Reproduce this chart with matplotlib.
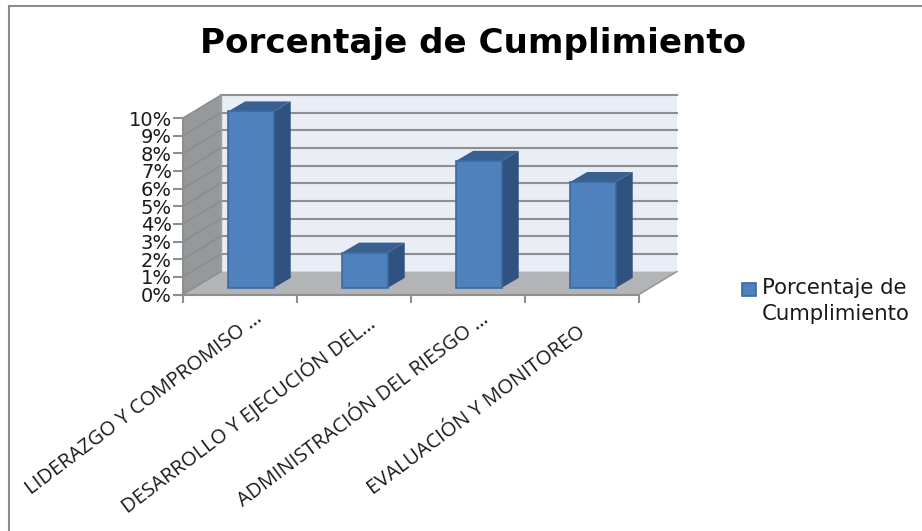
from matplotlib import pyplot as plt
from matplotlib.patches import Polygon, Rectangle
from matplotlib.ticker import PercentFormatter
from matplotlib.transforms import ScaledTranslation

categories = ["LIDERAZGO Y COMPROMISO …", "DESARROLLO Y EJECUCIÓN DEL…",
              "ADMINISTRACIÓN DEL RIESGO …", "EVALUACIÓN Y MONITOREO"]
values = [10.0, 2.0, 7.2, 6.0]
y_ticks = list(range(0, 11))
series_name = "Porcentaje de\nCumplimiento"
title = "Porcentaje de Cumplimiento"

W, H = 922, 531
# depth of the floor/walls and of the bars, in data units
DX, DY = 0.333, 1.30
BAR_W, BAR_DX, BAR_DY = 0.40, 0.15, 0.57
BAR_OFF_X, BAR_OFF_Y = 0.095, 0.37
# nudge of each category label, in pixels
LABEL_SHIFT = [(14, 14), (11, 11), (13, 13), (-5, 0)]


def poly(ax, pts, fc, ec='none', lw=0.0, z=1):
    ax.add_patch(Polygon(pts, closed=True, facecolor=fc, edgecolor=ec, linewidth=lw, zorder=z, clip_on=False))


def main():
    plt.rcParams['font.family'] = ['DejaVu Sans']
    fig = plt.figure(figsize=(W / 100, H / 100), dpi=100)

    # frame around the pasted picture
    fig.add_artist(plt.Line2D([9 / W, 9 / W], [0, 1 - 6 / H], color='#8c8c8c', lw=1.5, zorder=-1))
    fig.add_artist(plt.Line2D([9 / W, 1], [1 - 6 / H, 1 - 6 / H], color='#8c8c8c', lw=1.5, zorder=-1))

    ax = fig.add_axes([183 / W, 1 - 294.5 / H, 456 / W, 176.5 / H])
    ax.set_xlim(-0.5, 3.5)
    ax.set_ylim(0, 10)
    ax.patch.set_visible(False)
    for s in ax.spines.values():
        s.set_visible(False)

    x0, x1 = -0.5, 3.5
    top = y_ticks[-1]
    # back wall, side wall, floor
    poly(ax, [(x0 + DX, DY), (x1 + DX, DY), (x1 + DX, top + DY), (x0 + DX, top + DY)], '#e9edf5')
    poly(ax, [(x0, 0), (x0 + DX, DY), (x0 + DX, top + DY), (x0, top)], '#96999c')
    poly(ax, [(x0, 0), (x1, 0), (x1 + DX, DY), (x0 + DX, DY)], '#b2b4b7')

    for t in y_ticks:
        ax.plot([x0, x0 + DX], [t, t + DY], color='#8a8a8a', lw=1.0, zorder=2, clip_on=False)
        if t > 0:
            ax.plot([x0 + DX, x1 + DX], [t + DY, t + DY], color='#8f8f8f', lw=1.5, zorder=2, clip_on=False)
    ax.plot([x0, x1], [0, 0], color='#8f8f8f', lw=1.5, zorder=2, clip_on=False)
    ax.plot([x1, x1 + DX], [0, DY], color='#8f8f8f', lw=1.0, zorder=2, clip_on=False)
    ax.plot([x0, x0], [0, top], color='#8f8f8f', lw=1.5, zorder=2, clip_on=False)
    ax.plot([x0 + DX, x0 + DX], [DY, top + DY], color='#a0a0a0', lw=1.0, zorder=2, clip_on=False)

    # bars, front face plus top and side
    for i, v in enumerate(values):
        l = i + BAR_OFF_X - BAR_W / 2
        r = l + BAR_W
        b = BAR_OFF_Y
        t = b + v
        poly(ax, [(r, b), (r + BAR_DX, b + BAR_DY), (r + BAR_DX, t + BAR_DY), (r, t)], '#2f5280', z=3)
        poly(ax, [(l, t), (r, t), (r + BAR_DX, t + BAR_DY), (l + BAR_DX, t + BAR_DY)], '#386192', z=3)
        ax.bar(i + BAR_OFF_X, v, BAR_W, bottom=b, color='#4f81bd', edgecolor='#3b6aa0', linewidth=1.2, zorder=4,
               clip_on=False)

    ax.set_yticks(y_ticks)
    ax.yaxis.set_major_formatter(PercentFormatter(decimals=0))
    ax.tick_params(axis='y', length=7, width=1.5, color='#8f8f8f', labelsize=14, labelcolor='#1a1a1a', pad=1)
    ax.set_xticks(range(len(categories)))
    ax.set_xticklabels(categories, rotation=37, ha='right', va='top', rotation_mode='anchor',
                       fontsize=14.6, color='#1a1a1a', family='Open Sans')
    ax.tick_params(axis='x', length=0, pad=20)
    for lab, (sx, sy) in zip(ax.get_xticklabels(), LABEL_SHIFT):
        lab.set_transform(lab.get_transform() + ScaledTranslation(sx / 100, sy / 100, fig.dpi_scale_trans))
    ax.set_xticks([x0 + i for i in range(len(categories) + 1)], minor=True)
    ax.tick_params(axis='x', which='minor', length=6, width=1.5, color='#8f8f8f')

    fig.text(473 / W, 1 - 44 / H, title, ha='center', va='center', fontsize=24.6, fontweight='bold', color='black')

    # legend key and its two line text
    fig.add_artist(Rectangle((742 / W, 1 - 296 / H), 14 / W, 13 / H, transform=fig.transFigure,
                             facecolor='#4f81bd', edgecolor='#3b6aa0', linewidth=1.2))
    fig.text(762 / W, 1 - 301 / H, series_name, ha='left', va='center', fontsize=15.3, linespacing=1.35,
             color='#1a1a1a')

    plt.savefig("out.png", dpi=100)


if __name__ == "__main__":
    main()
